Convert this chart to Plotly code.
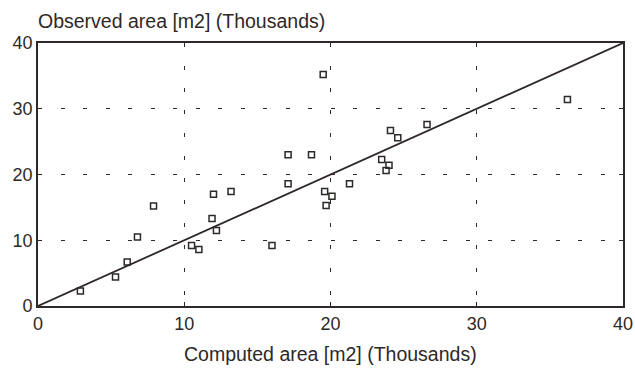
import plotly.graph_objects as go

computed = [2.9, 5.3, 6.1, 6.8, 7.9, 10.5, 11.0, 11.9, 12.0, 12.2, 13.2, 16.0, 17.1, 17.1,
            18.7, 19.5, 19.6, 19.7, 20.1, 21.3, 23.5, 23.8, 24.0, 24.1, 24.6, 26.6, 36.2]
observed = [2.3, 4.4, 6.7, 10.5, 15.2, 9.2, 8.6, 13.3, 17.0, 11.5, 17.4, 9.2, 23.0, 18.6,
            23.0, 35.2, 17.4, 15.3, 16.7, 18.6, 22.3, 20.6, 21.4, 26.7, 25.6, 27.6, 31.4]
line_x = [0, 40]
line_y = [0, 40]
tick_vals = [0, 10, 20, 30, 40]
tick_text = ["0", "10", "20", "30", "40"]

ink = "#2e2828"
font = "Liberation Sans, Arial, sans-serif"

W, H = 635, 372

fig = go.Figure()
fig.add_trace(go.Scatter(x=line_x, y=line_y, mode="lines",
                         line=dict(color=ink, width=1.8), hoverinfo="skip"))
fig.add_trace(go.Scatter(x=computed, y=observed, mode="markers",
                         marker=dict(symbol="square-open", size=6, color=ink,
                                     line=dict(color=ink, width=1.5))))

axis_common = dict(
    range=[0, 40], tickvals=tick_vals, ticktext=tick_text,
    showline=True, linecolor=ink, linewidth=1.8, mirror="ticks",
    ticks="inside", ticklen=4, tickcolor=ink, tickwidth=1.2,
    showgrid=True, gridcolor=ink, gridwidth=1.2, griddash="4px,18.5px",
    zeroline=False, tickfont=dict(family=font, size=18, color=ink),
    fixedrange=True, automargin=False, ticklabeloverflow="allow",
)

fig.update_layout(
    width=W, height=H,
    margin=dict(l=38, r=12, t=43, b=66),
    paper_bgcolor="white", plot_bgcolor="white",
    showlegend=False,
    font=dict(family=font, color=ink),
    xaxis=axis_common,
    yaxis=axis_common,
    title=dict(text="Observed area [m2] (Thousands)", xref="paper", x=0, xanchor="left",
               yref="container", y=1 - 21 / H, yanchor="middle",
               font=dict(family=font, size=19.5, color=ink)),
    annotations=[dict(text="Computed area [m2] (Thousands)", xref="paper", yref="paper",
                      x=0.5, y=-(354 - 306) / 263, xanchor="center", yanchor="middle",
                      showarrow=False, font=dict(family=font, size=19.5, color=ink))],
)

fig.write_html("out.html", config={"displayModeBar": False},
               post_script="document.body.style.margin='0';document.body.style.overflow='hidden';")
